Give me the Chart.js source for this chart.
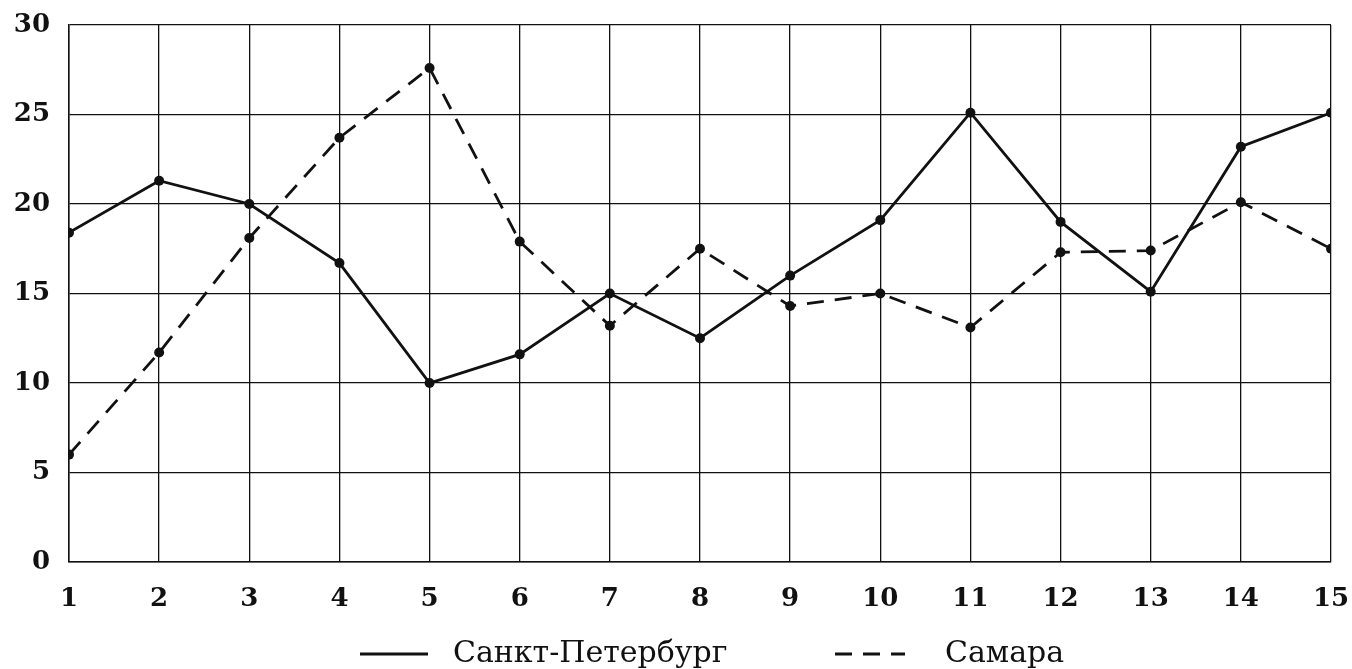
<!DOCTYPE html>
<html><head><meta charset="utf-8">
<script src="https://cdn.jsdelivr.net/npm/chart.js@4"></script>
<style>html,body{margin:0;padding:0;background:#fff}#wrap{width:1352px;height:669px}</style>
</head><body><div id="wrap"><canvas id="c"></canvas></div>
<script>
const categories = [1,2,3,4,5,6,7,8,9,10,11,12,13,14,15];
const spbLabel = "Санкт-Петербург";
const samLabel = "Самара";
const spbValues = [18.4,21.3,20.0,16.7,10.0,11.6,15.0,12.5,16.0,19.1,25.1,19.0,15.1,23.2,25.1];
const samValues = [6.0,11.7,18.1,23.7,27.6,17.9,13.2,17.5,14.3,15.0,13.1,17.3,17.4,20.1,17.5];
const yTicks = [0,5,10,15,20,25,30];

const ink = '#111';
const tickFont = {family: 'DejaVu Serif', size: 26, weight: 'bold'};
const legendFont = '30px "DejaVu Serif"';

const legendPlugin = {
  id: 'bottomLegend',
  afterDraw(chart) {
    const ctx = chart.ctx;
    const y = 654;
    const items = [
      {ds: chart.data.datasets[0], x1: 360, x2: 428, tx: 453},
      {ds: chart.data.datasets[1], x1: 835, x2: 905, tx: 945}
    ];
    ctx.save();
    items.forEach(it => {
      ctx.strokeStyle = it.ds.borderColor;
      ctx.lineWidth = it.ds.borderWidth;
      ctx.setLineDash(it.ds.borderDash || []);
      ctx.beginPath();
      ctx.moveTo(it.x1, y);
      ctx.lineTo(it.x2, y);
      ctx.stroke();
      ctx.setLineDash([]);
      ctx.fillStyle = ink;
      ctx.font = legendFont;
      ctx.textBaseline = 'middle';
      ctx.textAlign = 'left';
      ctx.fillText(it.ds.label, it.tx, y);
    });
    ctx.restore();
  }
};

new Chart(document.getElementById('c'), {
  type: 'line',
  data: {
    datasets: [
      {label: spbLabel, data: categories.map((c,i)=>({x:c, y:spbValues[i]})),
       borderColor: ink, backgroundColor: ink, borderWidth: 2.8, pointRadius: 5, pointBackgroundColor: ink, pointBorderWidth: 0, tension: 0},
      {label: samLabel, data: categories.map((c,i)=>({x:c, y:samValues[i]})),
       borderColor: ink, backgroundColor: ink, borderWidth: 2.8, borderDash: [17,11], pointRadius: 5, pointBackgroundColor: ink, pointBorderWidth: 0, tension: 0}
    ]
  },
  options: {
    responsive: true,
    maintainAspectRatio: false,
    animation: false,
    devicePixelRatio: 1,
    layout: {padding: {left: 0, right: 21, top: 25, bottom: 0}},
    plugins: {legend: {display: false}, tooltip: {enabled: false}},
    scales: {
      x: {
        type: 'linear', min: 1, max: 15,
        afterFit: s => { s.height = 107; s.paddingLeft = 0; s.paddingRight = 0; },
        afterBuildTicks: s => { s.ticks = categories.map(v => ({value: v})); },
        grid: {color: ink, lineWidth: 1.3, drawTicks: false},
        border: {color: ink, width: 1.5},
        ticks: {color: ink, font: tickFont, padding: 22, maxRotation: 0, autoSkip: false}
      },
      y: {
        min: 0, max: 30,
        afterFit: s => { s.width = 69; s.paddingTop = 0; s.paddingBottom = 0; },
        afterBuildTicks: s => { s.ticks = yTicks.map(v => ({value: v})); },
        grid: {color: ink, lineWidth: 1.3, drawTicks: false},
        border: {color: ink, width: 1.5},
        ticks: {color: ink, font: tickFont, padding: 19}
      }
    }
  },
  plugins: [legendPlugin]
});
</script></body></html>
